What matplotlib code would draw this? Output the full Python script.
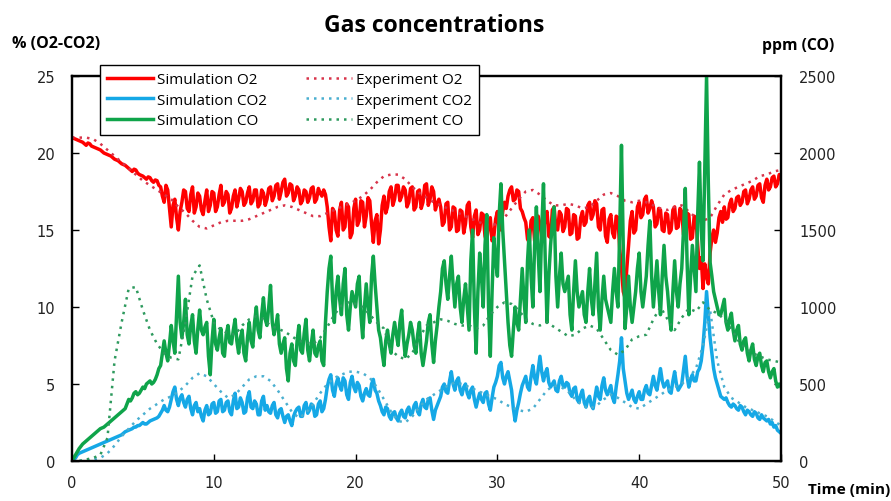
import numpy as np
import matplotlib
matplotlib.use("Agg")
import matplotlib.pyplot as plt

# ---- data ----
t_sim = np.arange(0, 50.001, 0.125)
t_exp = np.arange(0, 50.001, 0.5)

# simulation O2 (%), one row per minute
sim_o2 = [
    21.0, 20.95, 20.9, 20.85, 20.8, 20.75, 20.7, 20.6,
    20.5, 20.65, 20.6, 20.45, 20.4, 20.35, 20.3, 20.25,
    20.2, 20.1, 20.0, 19.95, 19.9, 19.85, 19.8, 19.7,
    19.6, 19.55, 19.5, 19.4, 19.3, 19.25, 19.2, 19.1,
    19.0, 18.9, 18.8, 18.95, 18.9, 18.7, 18.6, 18.55,
    18.5, 18.4, 18.3, 18.45, 18.4, 18.2, 18.1, 18.25,
    18.2, 17.9, 17.8, 17.2, 16.8, 17.9, 17.6, 16.4,
    15.2, 16.6, 17.0, 15.8, 15.0, 16.2, 16.8, 17.6,
    17.5, 16.4, 16.2, 17.3, 17.8, 16.1, 16.5, 17.4,
    17.2, 16.3, 16.0, 16.9, 17.6, 16.2, 16.6, 17.5,
    17.4, 16.2, 16.5, 17.3, 17.9, 16.6, 16.8, 17.5,
    17.3, 16.1, 16.4, 17.2, 17.6, 16.5, 17.0, 17.7,
    17.5, 16.6, 16.8, 17.4, 17.8, 16.7, 16.9, 17.6,
    17.6, 16.5, 16.7, 17.6, 17.4, 16.6, 17.0, 17.7,
    17.8, 16.9, 17.2, 17.9, 18.0, 17.0, 17.5, 18.1,
    18.3, 17.2, 17.4, 18.0, 17.9, 16.9, 17.2, 17.8,
    17.6, 16.7, 16.9, 17.6, 17.5, 16.8, 17.1, 17.7,
    17.8, 16.8, 17.0, 17.7, 17.4, 17.2, 17.6, 17.3,
    16.5, 15.2, 14.3, 16.4, 16.2, 15.0, 14.6, 16.3,
    16.8, 15.0, 15.2, 16.7, 16.5, 14.5, 14.8, 16.4,
    17.0, 15.3, 15.6, 16.9, 16.8, 15.2, 15.9, 17.1,
    16.9, 15.4, 14.2, 15.6, 16.0, 14.1, 15.0, 16.6,
    17.2, 16.1, 16.5, 17.5, 17.8, 16.6, 17.0, 17.9,
    17.9, 16.9, 17.2, 17.8, 17.6, 16.5, 16.8, 17.7,
    17.8, 16.3, 16.5, 17.5, 17.6, 16.4, 16.8, 17.9,
    18.0, 16.6, 17.0, 17.8, 17.5, 16.3, 16.7, 17.0,
    16.5, 15.3, 15.5, 16.7, 16.8, 15.0, 15.2, 16.5,
    16.4, 14.9, 15.0, 16.3, 16.2, 14.8, 15.4, 16.6,
    16.8, 15.2, 14.5, 15.9, 16.3, 14.7, 15.0, 16.1,
    16.0, 14.6, 14.2, 15.5, 15.8, 14.3, 14.6, 15.7,
    16.2, 15.1, 15.0, 16.2, 16.8, 16.4, 17.2, 17.6,
    17.8, 16.9, 17.0, 17.6, 17.5, 16.4, 16.2, 15.8,
    15.5, 14.4, 14.2, 15.6, 15.8, 14.3, 14.6, 15.9,
    15.4, 14.5, 14.8, 16.0, 16.2, 14.6, 14.5, 16.3,
    16.5, 15.1, 15.0, 16.2, 16.0, 14.9, 15.2, 16.4,
    16.3, 14.7, 14.8, 16.0, 15.9, 14.4, 14.5, 15.8,
    16.2, 15.3, 15.5, 16.6, 16.8, 15.7, 16.0, 16.9,
    16.7, 15.2, 15.0, 16.3, 16.4, 14.6, 14.2, 15.7,
    16.0, 14.8, 14.5, 15.9, 15.8, 13.8, 12.5, 11.0,
    10.6, 12.5, 14.0, 15.6, 16.2, 14.8, 15.0, 16.5,
    16.8, 15.8, 16.0, 17.0, 17.2, 16.1, 16.4, 16.9,
    16.5, 15.2, 15.4, 16.4, 16.3, 15.0, 14.9, 16.1,
    16.0, 14.8, 15.0, 16.3, 16.5, 15.1, 15.2, 16.4,
    16.2, 14.7, 14.8, 16.1, 16.0, 14.4, 14.5, 15.9,
    15.8, 14.0, 12.5, 13.2, 11.2, 12.8, 12.0, 11.5,
    13.5, 14.5, 15.0, 14.2, 14.8, 15.8, 16.2, 15.5,
    16.5, 15.7, 15.8, 16.7, 17.0, 16.2, 16.4, 17.1,
    17.2, 16.6, 16.8, 17.5, 17.6, 16.7, 17.0, 17.6,
    17.8, 17.0, 17.2, 17.9, 18.0, 17.1, 16.8, 17.9,
    18.3, 17.6, 17.8, 18.4, 18.5, 17.8, 18.0, 18.6,
    18.4,
]

# simulation CO2 (%)
sim_co2 = [
    0.0, 0.1, 0.2, 0.4, 0.5, 0.55, 0.6, 0.65,
    0.7, 0.75, 0.8, 0.85, 0.9, 0.95, 1.0, 1.05,
    1.1, 1.15, 1.2, 1.25, 1.3, 1.35, 1.4, 1.45,
    1.5, 1.55, 1.6, 1.65, 1.7, 1.8, 1.9, 1.95,
    2.0, 2.05, 2.1, 2.2, 2.2, 2.3, 2.3, 2.4,
    2.5, 2.4, 2.4, 2.5, 2.6, 2.65, 2.7, 2.75,
    2.8, 2.9, 3.1, 3.3, 3.6, 3.3, 3.2, 3.5,
    4.0, 4.5, 4.8, 4.0, 3.6, 4.1, 4.3, 3.8,
    3.5, 4.0, 4.2, 3.4, 3.0, 3.6, 3.8, 3.2,
    3.4, 2.9, 2.6, 3.3, 3.6, 3.0, 3.1, 3.7,
    3.8, 3.1, 3.2, 3.9, 4.0, 3.2, 3.3, 3.8,
    3.9, 3.2, 3.0, 3.9, 4.4, 3.4, 3.5, 4.1,
    3.8, 3.1, 3.2, 4.1, 4.5, 3.5, 3.4, 3.9,
    3.7, 3.0, 3.0, 3.9, 4.2, 3.3, 3.6, 3.2,
    3.1, 3.6, 3.8, 3.0, 2.8, 3.3, 3.4, 2.9,
    2.5, 2.9, 3.0, 2.6, 2.3, 2.9, 3.2, 3.4,
    3.5, 2.9, 2.9, 3.6, 3.8, 3.1, 3.3, 3.7,
    3.6, 2.9, 3.0, 3.7, 3.9, 3.2, 3.4, 4.0,
    4.8, 5.3, 5.6, 4.6, 4.2, 5.0, 5.4, 4.9,
    4.6, 5.4, 5.2, 4.3, 4.0, 5.1, 5.5, 4.8,
    4.5, 5.1, 4.9, 4.2, 3.9, 4.4, 4.7, 4.3,
    4.2, 5.0, 5.3, 4.6, 4.4, 3.9, 3.6, 3.2,
    3.0, 3.5, 3.4, 2.9, 2.7, 3.1, 3.2, 2.8,
    2.6, 3.1, 3.3, 2.9, 2.8, 3.3, 3.5, 3.0,
    3.1, 3.6, 3.8, 3.2, 3.0, 3.7, 4.0, 3.5,
    3.4, 4.0, 4.1, 3.3, 2.7, 3.3, 3.6, 3.9,
    4.2, 4.8, 5.0, 4.5, 4.4, 5.2, 5.8, 5.0,
    4.6, 5.2, 5.4, 4.6, 4.3, 4.8, 5.0, 4.4,
    4.1, 4.6, 4.8, 4.0, 3.5, 4.0, 4.4, 4.0,
    3.8, 4.4, 4.5, 3.7, 3.3, 4.1, 4.8, 5.1,
    5.5, 6.2, 6.4, 5.4, 5.0, 5.5, 5.8, 5.2,
    4.6, 3.4, 2.6, 3.3, 3.8, 4.4, 4.9, 5.2,
    5.5, 4.8, 4.6, 5.5, 6.2, 5.4, 5.0, 5.9,
    6.8, 5.8, 5.2, 5.7, 6.0, 5.1, 4.8, 5.0,
    5.2, 4.6, 4.5, 5.2, 5.5, 4.9, 4.8, 5.1,
    5.0, 4.4, 4.2, 4.7, 4.8, 4.0, 3.8, 4.3,
    4.6, 3.8, 3.5, 4.0, 4.2, 3.6, 3.4, 4.1,
    4.8, 4.2, 4.0, 4.9, 5.4, 4.6, 4.3, 4.6,
    4.9, 4.1, 3.8, 4.8, 5.6, 6.5, 8.0, 6.0,
    5.2, 4.4, 4.0, 4.3, 4.6, 4.0, 3.8, 4.2,
    4.5, 4.0, 4.0, 4.6, 4.9, 4.4, 4.3, 4.9,
    5.5, 4.9, 4.6, 5.3, 6.0, 5.2, 4.8, 5.0,
    5.2, 4.5, 4.4, 5.2, 5.8, 5.0, 4.6, 4.8,
    5.0, 5.9, 6.8, 5.5, 4.8, 5.3, 5.6, 5.2,
    5.2, 5.8, 6.0, 6.5, 7.5, 9.0, 11.0, 9.5,
    8.0, 7.0, 6.0, 5.4, 5.0, 4.6, 4.2, 4.1,
    4.0, 4.1, 3.8, 3.6, 3.5, 3.7, 3.6, 3.4,
    3.3, 3.6, 3.5, 3.2, 3.0, 3.3, 3.2, 3.0,
    2.9, 3.2, 3.1, 2.8, 2.7, 3.0, 2.8, 2.7,
    2.6, 2.7, 2.4, 2.5, 2.2, 2.3, 2.0, 1.9,
    1.8,
]

# simulation CO (ppm)
sim_co = [
    0, 20, 40, 60, 80, 95, 110, 120,
    130, 140, 150, 160, 170, 180, 190, 200,
    210, 215, 220, 230, 240, 250, 260, 270,
    280, 290, 300, 310, 320, 330, 340, 370,
    400, 390, 410, 440, 450, 430, 440, 460,
    480, 470, 500, 510, 520, 500, 510, 530,
    560, 600, 620, 700, 780, 700, 650, 760,
    880, 780, 700, 950, 1200, 900, 800, 900,
    1050, 820, 760, 880, 950, 780, 700, 860,
    980, 850, 820, 870, 900, 680, 560, 780,
    920, 760, 720, 800, 860, 700, 680, 820,
    880, 770, 760, 850, 920, 780, 700, 800,
    850, 700, 650, 800, 900, 780, 740, 900,
    1000, 850, 800, 950, 1060, 920, 880, 1000,
    1140, 900, 820, 880, 950, 760, 700, 760,
    800, 600, 520, 700, 760, 650, 620, 780,
    880, 720, 700, 830, 920, 720, 650, 760,
    850, 700, 680, 750, 780, 650, 620, 900,
    1100, 1250, 1330, 1050, 900, 1100, 1200, 1050,
    950, 1150, 1250, 950, 850, 1000, 1100, 1050,
    1000, 1150, 1200, 950, 800, 1000, 1150, 1000,
    900, 1200, 1330, 1150, 1000, 850, 800, 700,
    620, 780, 850, 760, 700, 820, 900, 820,
    750, 900, 980, 800, 680, 760, 820, 900,
    850, 750, 700, 820, 900, 700, 620, 700,
    780, 900, 950, 760, 640, 780, 880, 1000,
    1100, 1250, 1300, 1150, 1050, 1200, 1330, 1150,
    1000, 1150, 1200, 1000, 900, 1050, 1150, 1000,
    850, 1300, 1500, 1000, 700, 1100, 1350, 1200,
    1000, 1400, 1600, 1000, 680, 1100, 1450, 1300,
    1200, 1600, 1800, 1500, 1300, 1100, 900, 750,
    680, 850, 1000, 900, 850, 1050, 1250, 1050,
    900, 1300, 1500, 1200, 1000, 1400, 1650, 1350,
    1100, 1500, 1800, 1300, 900, 1200, 1400, 1550,
    1650, 1200, 1000, 1200, 1350, 1150, 1100, 1150,
    1200, 950, 850, 1100, 1300, 1100, 1000, 1050,
    1100, 950, 900, 1100, 1250, 1050, 950, 1150,
    1350, 1000, 850, 1050, 1200, 1050, 1000, 950,
    900, 1100, 1250, 1100, 1000, 1500, 2050, 1400,
    860, 1000, 1200, 1000, 900, 1000, 1100, 1250,
    1350, 1100, 1000, 1100, 1200, 1400, 1560, 1200,
    1000, 1150, 1300, 1100, 950, 1200, 1400, 1200,
    1100, 950, 850, 1100, 1300, 1100, 1000, 1150,
    1250, 1500, 1770, 1300, 950, 1200, 1400, 1250,
    1100, 1600, 1940, 1500, 1300, 1900, 2500, 1800,
    1290, 1200, 1100, 1050, 1000, 950, 950, 1000,
    1050, 900, 850, 920, 960, 850, 780, 850,
    880, 760, 720, 780, 800, 700, 650, 720,
    760, 660, 620, 680, 700, 620, 580, 640,
    650, 580, 540, 580, 600, 520, 480, 500,
    480,
]

exp_o2 = [
    21.0, 21.0, 21.0, 20.9, 20.6, 20.2, 19.8, 19.4, 19.0, 18.6, 18.2,
    17.9, 17.6, 17.3, 17.0, 16.5, 16.1, 15.6, 15.2, 15.1, 15.3,
    15.5, 15.6, 15.6, 15.6, 15.7, 15.9, 16.1, 16.3, 16.5, 16.6,
    16.5, 16.3, 16.1, 15.9, 15.9, 16.1, 16.3, 16.5, 16.7, 16.9,
    17.2, 17.6, 18.1, 18.5, 18.6, 18.6, 18.3, 17.8, 17.4, 17.1,
    16.8, 16.6, 16.4, 16.2, 16.0, 15.8, 15.6, 15.4, 15.3, 15.4,
    15.8, 16.4, 17.0, 17.5, 17.6, 17.3, 16.9, 16.6, 16.6, 16.7,
    16.6, 16.4, 16.5, 16.9, 17.3, 17.4, 17.2, 16.9, 16.8, 16.9,
    16.8, 16.6, 16.4, 16.3, 16.5, 16.6, 16.2, 15.8, 15.6, 15.8,
    16.6, 17.3, 17.6, 17.8, 18.0, 18.2, 18.5, 18.6, 18.8, 18.9,
]

exp_co2 = [
    0.0, 0.0, 0.05, 0.1, 0.2, 0.5, 1.0, 1.6, 2.1, 2.6, 3.0,
    3.4, 3.7, 4.0, 4.2, 4.5, 4.9, 5.4, 5.7, 5.5, 5.0,
    4.5, 4.1, 4.3, 4.8, 5.3, 5.5, 5.5, 5.2, 4.6, 3.9,
    3.2, 2.8, 3.1, 3.7, 4.4, 5.0, 5.4, 5.6, 5.8, 5.8,
    5.7, 5.4, 4.8, 4.0, 3.2, 2.6, 2.5, 2.9, 3.5, 4.0,
    4.3, 4.6, 4.9, 5.1, 5.0, 4.8, 4.6, 4.4, 4.2, 4.0,
    3.7, 3.5, 3.3, 3.2, 3.4, 4.0, 4.6, 4.9, 4.8, 4.5,
    4.0, 3.6, 3.4, 3.6, 4.0, 4.3, 4.1, 3.8, 3.5, 3.4,
    3.7, 4.0, 4.3, 4.6, 4.8, 5.0, 5.4, 6.0, 7.5, 9.8,
    6.5, 4.8, 4.1, 3.8, 3.5, 3.3, 3.1, 2.9, 2.6, 2.3,
]

exp_co = [
    0, 0, 10, 20, 40, 150, 650, 900, 1120, 1130, 980,
    850, 760, 700, 670, 660, 900, 1200, 1270, 1050, 900,
    850, 830, 820, 880, 920, 940, 920, 880, 860, 840,
    810, 780, 770, 760, 800, 870, 950, 1010, 1030, 1020,
    1000, 950, 900, 860, 720, 680, 660, 700, 800, 880,
    900, 920, 910, 890, 880, 880, 860, 880, 950, 1000,
    1030, 1020, 980, 920, 890, 880, 900, 870, 840, 810,
    820, 860, 880, 860, 790, 720, 690, 720, 790, 810,
    820, 920, 1000, 920, 850, 930, 990, 970, 1030, 980,
    960, 920, 860, 780, 730, 700, 680, 660, 650, 640,
]

x_ticks = [0, 10, 20, 30, 40, 50]
y_ticks = [0, 5, 10, 15, 20, 25]
y2_ticks = [0, 500, 1000, 1500, 2000, 2500]

red = "#FF0000"
blue = "#15A8E6"
green = "#0FA44A"
red_dot = "#D8344A"
blue_dot = "#4AAFD0"
green_dot = "#2E9A5E"

W, H = 891, 502
fig = plt.figure(figsize=(W / 100, H / 100), dpi=100)
ax = fig.add_axes([72 / W, 1 - 462 / H, (781 - 72) / W, (462 - 77) / H])
ax2 = ax.twinx()

dots = (0, (1, 2))
l1, = ax.plot(t_sim, sim_o2, color=red, lw=2.5, label="Simulation O2")
l2, = ax.plot(t_sim, sim_co2, color=blue, lw=2.5, label="Simulation CO2")
l4, = ax.plot(t_exp, exp_o2, color=red_dot, lw=1.8, ls=dots, label="Experiment O2")
l5, = ax.plot(t_exp, exp_co2, color=blue_dot, lw=1.8, ls=dots, label="Experiment CO2")
l3, = ax2.plot(t_sim, sim_co, color=green, lw=2.5, label="Simulation CO")
l6, = ax2.plot(t_exp, exp_co, color=green_dot, lw=1.8, ls=dots, label="Experiment CO")

ax.set_xlim(0, 50)
ax.set_ylim(0, 25)
ax2.set_ylim(0, 2500)
ax.set_xticks(x_ticks)
ax.set_yticks(y_ticks)
ax2.set_yticks(y2_ticks)

for a in (ax, ax2):
    for s in a.spines.values():
        s.set_linewidth(1.6)
        s.set_color("black")
ax.tick_params(axis="both", direction="in", length=5, width=1, labelsize=10.5, colors="black")
ax.tick_params(axis="x", pad=10)
ax.tick_params(axis="y", pad=12)
ax2.tick_params(axis="y", direction="in", length=5, width=1, labelsize=10.5, pad=13)
for lab in ax.get_xticklabels() + ax.get_yticklabels() + ax2.get_yticklabels():
    lab.set_color("#222222")

leg = fig.legend(handles=[l1, l2, l3, l4, l5, l6], ncol=2, loc="upper left",
                 bbox_to_anchor=(100 / W, 1 - 66 / H), bbox_transform=fig.transFigure,
                 frameon=True, fancybox=False, edgecolor="black", framealpha=1,
                 borderaxespad=0, borderpad=0.45, handlelength=3.0, handletextpad=0.25,
                 columnspacing=2.6, labelspacing=0.38,
                 prop={"family": "Open Sans", "size": 11})
leg.get_frame().set_linewidth(1.0)

fig.text(434 / W, 1 - 26 / H, "Gas concentrations", ha="center", va="center",
         fontsize=16.5, fontweight="bold", family="Open Sans")
fig.text(12 / W, 1 - 44 / H, "% (O2-CO2)", ha="left", va="center",
         fontsize=11.5, fontweight="bold", family="Open Sans")
fig.text(762 / W, 1 - 46 / H, "ppm (CO)", ha="left", va="center",
         fontsize=11.3, fontweight="bold", family="Open Sans")
fig.text(808 / W, 1 - 490 / H, "Time (min)", ha="left", va="center",
         fontsize=11.1, fontweight="bold", family="Open Sans")

fig.savefig("out.png", dpi=100)
